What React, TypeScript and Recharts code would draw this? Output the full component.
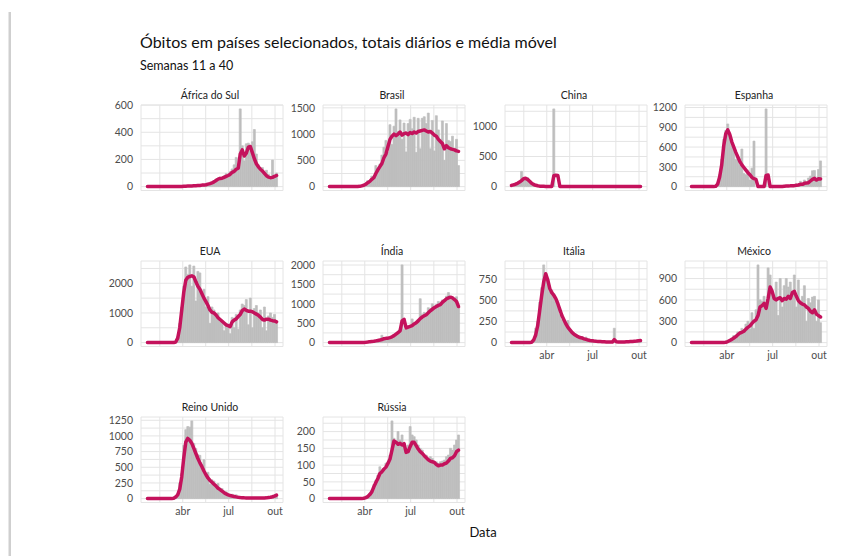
import React from 'react';
import { ComposedChart, Bar, Line, XAxis, YAxis, CartesianGrid } from 'recharts';

// dias desde 22/jan/2020, a cada 4 dias
const dias = [0, 4, 8, 12, 16, 20, 24, 28, 32, 36, 40, 44, 48, 52, 56, 60, 64, 68, 72, 76, 80, 84, 88, 92, 96, 100, 104, 108, 112, 116, 120, 124, 128, 132, 136, 140, 144, 148, 152, 156, 160, 164, 168, 172, 176, 180, 184, 188, 192, 196, 200, 204, 208, 212, 216, 220, 224, 228, 232, 236, 240, 244, 248, 252, 256];

const xTicks = [24.5, 70, 115.5, 161, 207, 253];
const xTickLabels = ['', 'abr', '', 'jul', '', 'out'];

const sulDiario = [0, 0, 0, 0, 0, 0, 0, 0, 0, 0, 0, 0, 0, 0, 0, 0, 0, 1, 2, 5, 3, 6, 4, 8, 7, 11, 8, 13, 10, 18, 17, 25, 30, 45, 55, 52, 70, 60, 80, 95, 85, 110, 130, 160, 215, 150, 572, 300, 190, 315, 320, 260, 330, 420, 240, 160, 130, 140, 95, 120, 90, 70, 195, 60, 100];
const sulMedia = [0, 0, 0, 0, 0, 0, 0, 0, 0, 0, 0, 0, 0, 0, 0, 0, 0, 1, 2, 3, 4, 4, 5, 6, 7, 8, 9, 11, 12, 14, 18, 22, 28, 35, 45, 55, 60, 62, 68, 75, 82, 90, 105, 112, 128, 135, 240, 270, 225, 245, 290, 295, 250, 205, 168, 145, 128, 115, 98, 80, 70, 66, 68, 75, 82];

const brasilDiario = [0, 0, 0, 0, 0, 0, 0, 0, 0, 0, 0, 0, 0, 0, 1, 7, 20, 35, 60, 115, 70, 200, 190, 400, 340, 430, 600, 750, 880, 650, 1180, 800, 1150, 1480, 1050, 1270, 900, 1210, 660, 1200, 1280, 1100, 1320, 650, 1300, 720, 1300, 1330, 1200, 1400, 720, 1260, 680, 1350, 1080, 900, 1250, 500, 1200, 880, 860, 960, 730, 900, 400];
const brasilMedia = [0, 0, 0, 0, 0, 0, 0, 0, 0, 0, 0, 0, 0, 0, 1, 5, 15, 25, 45, 75, 100, 140, 170, 250, 320, 380, 440, 550, 620, 760, 900, 960, 1000, 970, 1000, 1040, 980, 1010, 1020, 990, 1030, 1010, 1040, 1020, 1050, 1060, 1070, 1080, 1060, 1040, 1050, 1020, 980, 960, 900, 860, 820, 720, 780, 740, 720, 710, 700, 680, 670];

const chinaDiario = [17, 24, 43, 64, 73, 254, 143, 136, 150, 52, 31, 28, 17, 13, 11, 7, 5, 1, 3, 2, 1, 1290, 0, 0, 1, 0, 0, 0, 0, 0, 0, 0, 0, 0, 0, 0, 0, 0, 0, 0, 0, 0, 0, 0, 0, 0, 0, 0, 0, 0, 0, 0, 0, 0, 0, 0, 0, 0, 0, 0, 0, 0, 0, 0, 0];
const chinaMedia = [20, 30, 40, 55, 75, 100, 130, 140, 120, 90, 55, 35, 22, 14, 8, 5, 4, 3, 3, 2, 1, 180, 190, 185, 1, 0, 0, 0, 0, 0, 0, 0, 0, 0, 0, 0, 0, 0, 0, 0, 0, 0, 0, 0, 0, 0, 0, 0, 0, 0, 0, 0, 0, 0, 0, 0, 0, 0, 0, 0, 0, 0, 0, 0, 0];

const espanhaDiario = [0, 0, 0, 0, 0, 0, 0, 0, 0, 0, 0, 0, 5, 60, 180, 420, 720, 850, 950, 760, 620, 560, 410, 440, 330, 570, 200, 180, 250, 100, 280, 690, 0, 0, 0, 0, 0, 1179, 0, 0, 5, 0, 3, 0, 5, 2, 10, 0, 20, 5, 30, 10, 40, 15, 80, 20, 100, 60, 130, 160, 240, 245, 80, 260, 390];
const espanhaMedia = [0, 0, 0, 0, 0, 0, 0, 0, 0, 0, 0, 0, 5, 40, 150, 330, 620, 800, 860, 790, 680, 600, 520, 450, 380, 330, 290, 250, 210, 180, 140, 120, 110, 0, 0, 0, 0, 170, 175, 0, 0, 0, 0, 0, 0, 2, 5, 8, 10, 12, 15, 15, 20, 25, 35, 35, 50, 55, 60, 85, 110, 125, 100, 120, 115];

const euaDiario = [0, 0, 0, 0, 0, 0, 0, 0, 0, 0, 0, 0, 0, 10, 40, 200, 650, 1200, 1900, 2550, 2300, 2620, 1900, 2580, 1400, 2400, 2350, 1700, 1800, 1200, 1550, 650, 1200, 1100, 950, 1000, 700, 750, 400, 650, 600, 300, 850, 500, 950, 450, 1100, 1300, 1250, 1450, 600, 1500, 500, 1150, 1250, 1000, 1100, 500, 1200, 400, 900, 1000, 850, 950, 650];
const euaMedia = [0, 0, 0, 0, 0, 0, 0, 0, 0, 0, 0, 0, 0, 0, 20, 150, 500, 1100, 1700, 2100, 2200, 2230, 2250, 2220, 2050, 1900, 1800, 1650, 1500, 1380, 1250, 1100, 1020, 1000, 930, 840, 780, 720, 660, 600, 570, 540, 700, 760, 800, 880, 950, 1080, 1130, 1090, 1060, 1060, 1040, 1000, 960, 920, 860, 780, 760, 790, 790, 760, 740, 730, 700];

const indiaDiario = [0, 0, 0, 0, 0, 0, 0, 0, 0, 0, 0, 0, 0, 0, 0, 0, 0, 5, 10, 20, 30, 25, 40, 50, 60, 75, 190, 100, 130, 120, 150, 160, 200, 230, 290, 360, 2003, 340, 450, 400, 420, 610, 480, 550, 600, 1130, 720, 780, 750, 900, 870, 1000, 940, 980, 1060, 1020, 1100, 1060, 1200, 1290, 1180, 1130, 1100, 1180, 900];
const indiaMedia = [0, 0, 0, 0, 0, 0, 0, 0, 0, 0, 0, 0, 0, 0, 0, 0, 0, 3, 8, 15, 25, 30, 35, 45, 55, 65, 80, 100, 110, 115, 130, 150, 180, 220, 260, 300, 560, 600, 380, 400, 420, 440, 480, 510, 560, 620, 660, 690, 720, 770, 820, 860, 900, 930, 960, 980, 1040, 1080, 1130, 1150, 1170, 1150, 1110, 1060, 930];

const italiaDiario = [0, 0, 0, 0, 0, 0, 0, 0, 0, 2, 8, 40, 170, 250, 480, 650, 919, 810, 760, 600, 620, 580, 480, 470, 330, 270, 240, 190, 260, 150, 130, 90, 100, 60, 70, 70, 45, 65, 25, 30, 25, 20, 30, 10, 15, 10, 10, 8, 5, 6, 4, 170, 8, 6, 10, 5, 10, 12, 15, 10, 20, 15, 20, 24, 30];
const italiaMedia = [0, 0, 0, 0, 0, 0, 0, 0, 0, 1, 5, 30, 90, 200, 380, 560, 720, 815, 740, 640, 590, 560, 520, 460, 390, 320, 270, 220, 180, 150, 120, 100, 85, 70, 60, 55, 45, 38, 30, 25, 22, 18, 15, 13, 12, 11, 10, 8, 7, 6, 6, 35, 10, 7, 8, 8, 8, 10, 10, 12, 14, 16, 18, 22, 24];

const mexicoDiario = [0, 0, 0, 0, 0, 0, 0, 0, 0, 0, 0, 0, 0, 0, 0, 0, 2, 5, 20, 40, 50, 100, 80, 150, 120, 200, 180, 260, 300, 190, 420, 200, 460, 1092, 600, 580, 650, 450, 1050, 950, 700, 650, 850, 380, 900, 500, 800, 900, 780, 850, 730, 950, 500, 880, 550, 650, 800, 300, 620, 560, 640, 650, 300, 600, 280];
const mexicoMedia = [0, 0, 0, 0, 0, 0, 0, 0, 0, 0, 0, 0, 0, 0, 0, 0, 2, 5, 15, 30, 45, 65, 85, 110, 135, 145, 160, 190, 215, 235, 270, 300, 320, 380, 500, 520, 550, 480, 620, 780, 720, 620, 600, 620, 630, 590, 620, 610, 650, 620, 700, 720, 650, 590, 560, 540, 530, 500, 480, 440, 420, 460, 400, 380, 360];

const reinoUnidoDiario = [0, 0, 0, 0, 0, 0, 0, 0, 0, 0, 0, 0, 0, 10, 40, 80, 250, 400, 850, 1100, 1150, 1140, 1240, 880, 800, 700, 690, 480, 620, 380, 420, 230, 300, 280, 220, 240, 150, 160, 110, 110, 70, 60, 70, 35, 60, 20, 30, 15, 15, 10, 12, 10, 12, 8, 12, 10, 10, 8, 14, 15, 22, 30, 35, 60, 65];
const reinoUnidoMedia = [0, 0, 0, 0, 0, 0, 0, 0, 0, 0, 0, 0, 0, 5, 25, 60, 150, 350, 650, 900, 960, 930, 880, 800, 720, 640, 570, 510, 440, 380, 330, 290, 260, 230, 200, 165, 145, 120, 95, 75, 60, 50, 42, 35, 28, 22, 18, 15, 12, 10, 10, 9, 9, 9, 8, 8, 8, 9, 10, 12, 18, 22, 30, 40, 55];

const russiaDiario = [0, 0, 0, 0, 0, 0, 0, 0, 0, 0, 0, 0, 0, 0, 0, 0, 0, 2, 4, 8, 15, 25, 42, 55, 70, 95, 85, 90, 106, 110, 130, 232, 180, 170, 200, 175, 190, 165, 145, 160, 215, 190, 185, 175, 160, 150, 145, 130, 130, 120, 125, 120, 112, 110, 105, 110, 112, 115, 125, 130, 150, 145, 160, 175, 190];
const russiaMedia = [0, 0, 0, 0, 0, 0, 0, 0, 0, 0, 0, 0, 0, 0, 0, 0, 0, 1, 3, 6, 12, 20, 35, 48, 60, 75, 80, 88, 94, 105, 118, 145, 172, 168, 162, 165, 160, 164, 138, 140, 155, 168, 168, 158, 148, 140, 135, 128, 122, 116, 112, 110, 108, 102, 98, 100, 100, 104, 106, 112, 120, 122, 128, 140, 145];

const paineis = [
  { nome: 'África do Sul', diario: sulDiario, media: sulMedia, ticks: [0, 100, 200, 300, 400, 500, 600], rotulos: [0, 200, 400, 600], eixoX: false },
  { nome: 'Brasil', diario: brasilDiario, media: brasilMedia, ticks: [0, 250, 500, 750, 1000, 1250, 1500], rotulos: [0, 500, 1000, 1500], eixoX: false },
  { nome: 'China', diario: chinaDiario, media: chinaMedia, ticks: [0, 250, 500, 750, 1000, 1250], rotulos: [0, 500, 1000], eixoX: false },
  { nome: 'Espanha', diario: espanhaDiario, media: espanhaMedia, ticks: [0, 150, 300, 450, 600, 750, 900, 1050, 1200], rotulos: [0, 300, 600, 900, 1200], eixoX: false },
  { nome: 'EUA', diario: euaDiario, media: euaMedia, ticks: [0, 500, 1000, 1500, 2000, 2500], rotulos: [0, 1000, 2000], eixoX: false },
  { nome: 'Índia', diario: indiaDiario, media: indiaMedia, ticks: [0, 250, 500, 750, 1000, 1250, 1500, 1750, 2000], rotulos: [0, 500, 1000, 1500, 2000], eixoX: false },
  { nome: 'Itália', diario: italiaDiario, media: italiaMedia, ticks: [0, 125, 250, 375, 500, 625, 750, 875], rotulos: [0, 250, 500, 750], eixoX: true },
  { nome: 'México', diario: mexicoDiario, media: mexicoMedia, ticks: [0, 150, 300, 450, 600, 750, 900, 1050], rotulos: [0, 300, 600, 900], eixoX: true },
  { nome: 'Reino Unido', diario: reinoUnidoDiario, media: reinoUnidoMedia, ticks: [0, 125, 250, 375, 500, 625, 750, 875, 1000, 1125, 1250], rotulos: [0, 250, 500, 750, 1000, 1250], eixoX: true },
  { nome: 'Rússia', diario: russiaDiario, media: russiaMedia, ticks: [0, 25, 50, 75, 100, 125, 150, 175, 200, 225], rotulos: [0, 50, 100, 150, 200], eixoX: true },
];

const COL_X = [141, 323, 505, 685];
const ROW_Y = [105, 261, 417];
const PLOT_W = 142;
const PLOT_H = 85.5;
const Y_W = 50;
const X_H = 18;
const TOP_PAD = 8;
const FONT = 'Lato, "Open Sans", sans-serif';
const tickStyle = { fontSize: 10.5, fill: '#4d4d4d', fontFamily: FONT };

type P = (typeof paineis)[number];

const Painel = ({ p, left, top }: { p: P; left: number; top: number }) => {
  const rows = dias.map((d, i) => ({ d, diario: p.diario[i], media: p.media[i] }));
  const m = Math.max(...p.diario, ...p.media);
  return (
    <div style={{ position: 'absolute', left: left - Y_W, top: top - TOP_PAD }}>
      <ComposedChart
        width={Y_W + PLOT_W + 4}
        height={PLOT_H + X_H + TOP_PAD}
        data={rows}
        margin={{ top: TOP_PAD, right: 4, bottom: 0, left: 0 }}
        barCategoryGap={0}
        barGap={0}
      >
        <CartesianGrid stroke="#e4e4e4" strokeWidth={1} />
        <XAxis
          dataKey="d"
          type="number"
          domain={[-12.8, 268.8]}
          ticks={xTicks}
          interval={0}
          allowDataOverflow
          tickFormatter={(v: number) => (p.eixoX ? xTickLabels[xTicks.indexOf(v)] : '')}
          tickLine={false}
          axisLine={false}
          tickSize={0}
          tickMargin={5}
          height={X_H}
          tick={tickStyle}
        />
        <YAxis
          type="number"
          domain={[-0.05 * m, 1.05 * m]}
          ticks={p.ticks}
          interval={0}
          allowDataOverflow
          tickFormatter={(v: number) => (p.rotulos.includes(v) ? String(v) : '')}
          width={Y_W}
          tickLine={false}
          axisLine={false}
          tickSize={0}
          tickMargin={8}
          tick={tickStyle}
        />
        {/* contorno fino da mesma cor para fechar as frestas entre barras */}
        <Bar dataKey="diario" fill="#bebebe" stroke="#bebebe" strokeWidth={0.7} isAnimationActive={false} />
        <Line
          dataKey="media"
          type="linear"
          stroke="#c4125c"
          strokeWidth={3.5}
          dot={false}
          strokeLinejoin="round"
          strokeLinecap="round"
          isAnimationActive={false}
        />
      </ComposedChart>
    </div>
  );
};

export default function App() {
  return (
    <div style={{ position: 'absolute', left: 0, top: 0, width: 862, height: 556, background: '#fff', overflow: 'hidden' }}>
      <svg width={862} height={556} style={{ position: 'absolute', left: 0, top: 0 }}>
        <rect x={8.5} y={12} width={2.5} height={544} fill="#cfcfcf" />
        <text x={140} y={48} fontFamily={FONT} fontSize={16} fill="#111">
          Óbitos em países selecionados, totais diários e média móvel
        </text>
        <text x={140} y={70} fontFamily={FONT} fontSize={12.5} fill="#111">
          Semanas 11 a 40
        </text>
        {paineis.map((p, i) => (
          <text
            key={p.nome}
            x={COL_X[i % 4] + PLOT_W / 2 - 2}
            y={ROW_Y[Math.floor(i / 4)] - 6.5}
            textAnchor="middle"
            fontFamily={FONT}
            fontSize={10.5}
            fill="#222"
          >
            {p.nome}
          </text>
        ))}
        <text x={483} y={537} textAnchor="middle" fontFamily={FONT} fontSize={13} fill="#111">
          Data
        </text>
      </svg>
      {paineis.map((p, i) => (
        <Painel key={p.nome} p={p} left={COL_X[i % 4]} top={ROW_Y[Math.floor(i / 4)]} />
      ))}
    </div>
  );
}
